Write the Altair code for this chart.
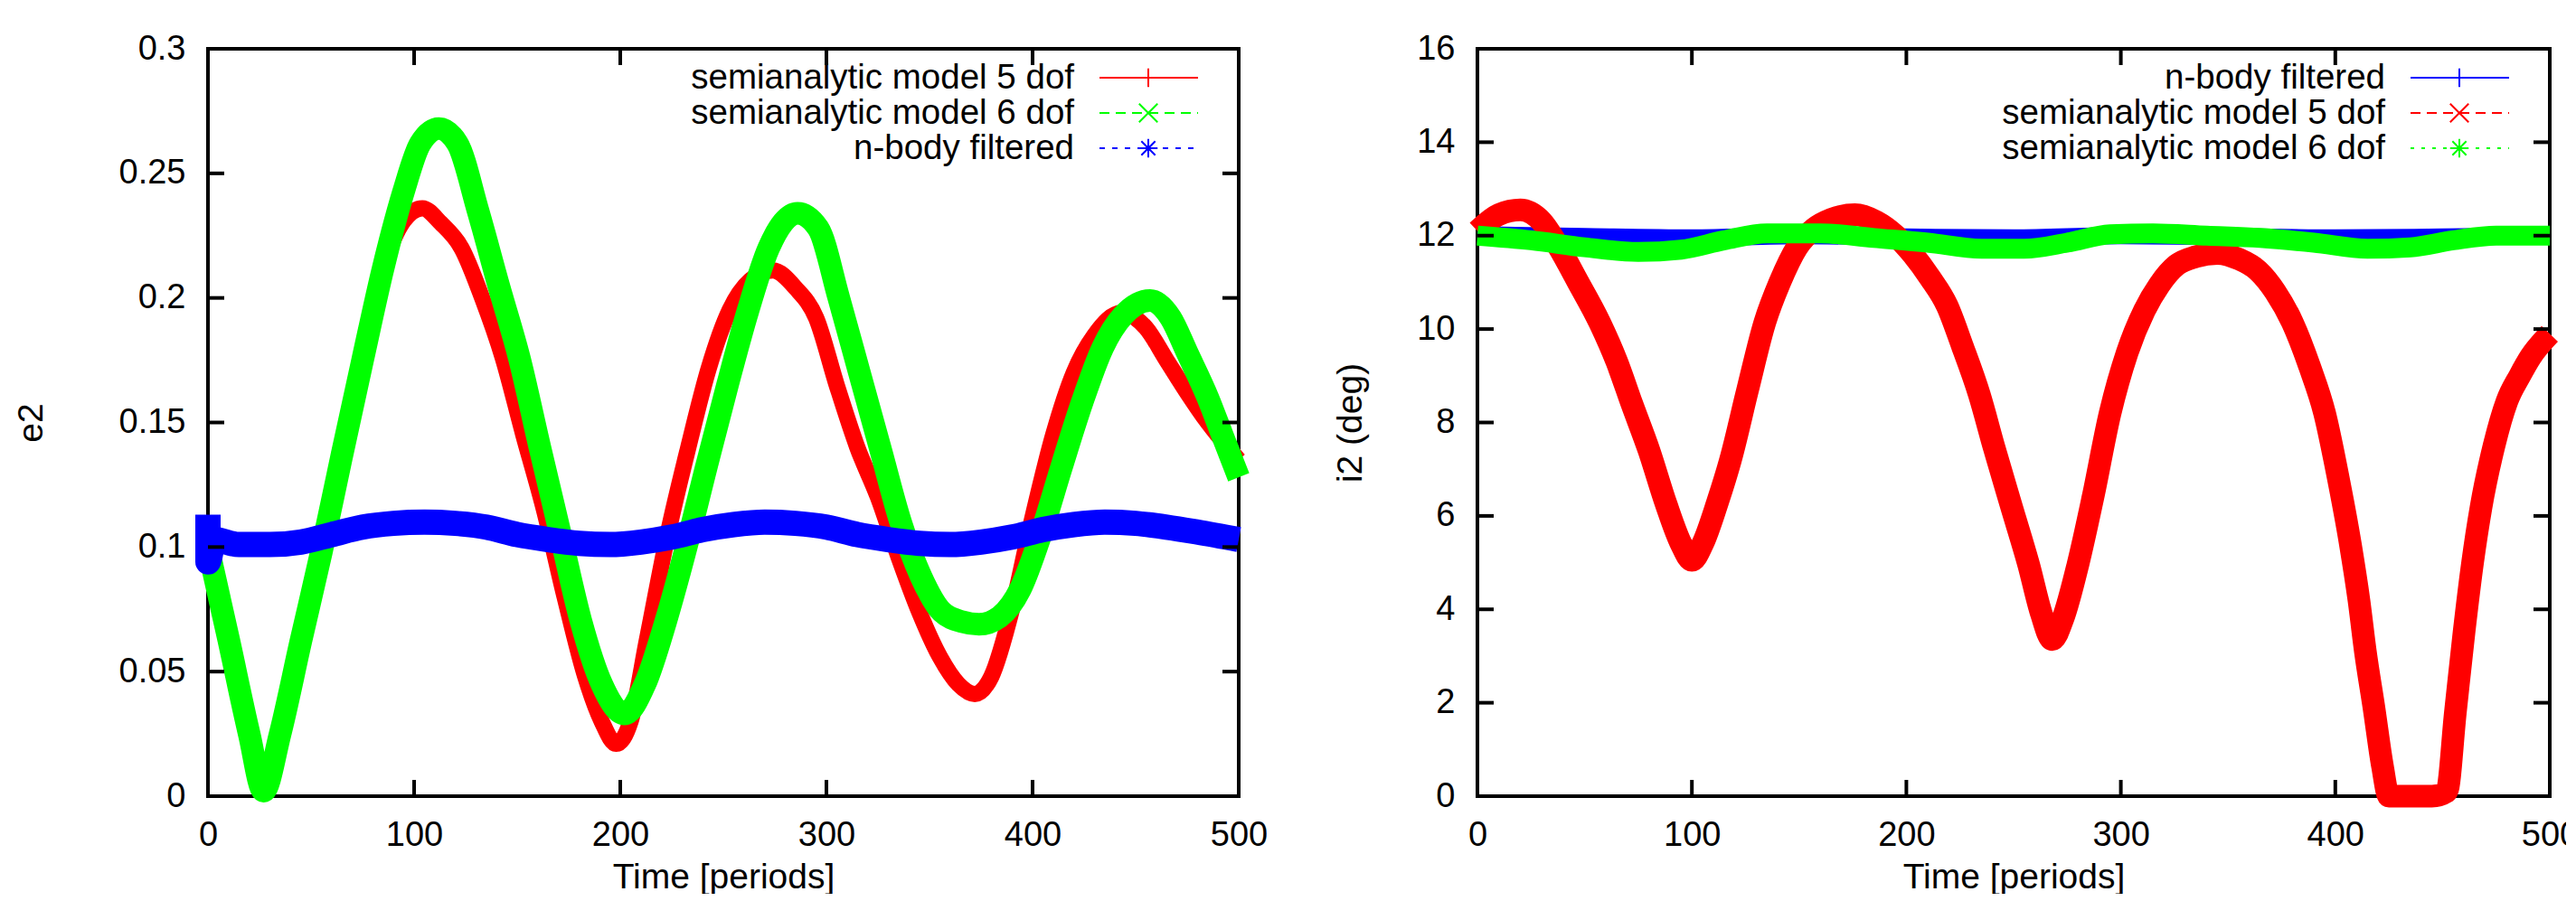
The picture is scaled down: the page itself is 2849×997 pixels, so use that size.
import altair as alt
import pandas as pd

# ---------------- data ----------------
# Left panel: e2 vs time
t_e5 = [0, 10, 20, 27, 35, 45, 55, 65, 75, 85, 95, 104, 113, 123, 133, 143, 153, 163, 173, 183, 191, 198,
        205, 213, 223, 233, 243, 253, 263, 274, 285, 295, 305, 315, 325, 335, 345, 355, 364, 372, 380, 390,
        400, 410, 420, 430, 443, 455, 465, 475, 485, 500]
e2_5dof = [0.100, 0.063, 0.026, 0.002, 0.028, 0.065, 0.103, 0.140, 0.178, 0.212, 0.231, 0.236, 0.230, 0.220,
           0.200, 0.176, 0.145, 0.115, 0.080, 0.048, 0.030, 0.021, 0.030, 0.063, 0.105, 0.140, 0.172, 0.195,
           0.207, 0.211, 0.204, 0.192, 0.165, 0.140, 0.120, 0.096, 0.074, 0.056, 0.045, 0.041, 0.048, 0.075,
           0.112, 0.145, 0.170, 0.185, 0.194, 0.188, 0.175, 0.162, 0.150, 0.135]

t_e6 = [0, 10, 20, 27, 35, 45, 55, 65, 75, 85, 95, 103, 112, 121, 131, 141, 151, 161, 171, 181, 191, 202,
        212, 222, 232, 242, 252, 262, 272, 286, 296, 306, 316, 326, 336, 346, 356, 366, 374, 384, 394, 404,
        414, 424, 434, 444, 457, 467, 475, 485, 492, 500]
e2_6dof = [0.100, 0.063, 0.025, 0.002, 0.025, 0.062, 0.098, 0.137, 0.175, 0.212, 0.243, 0.262, 0.268, 0.262,
           0.235, 0.205, 0.176, 0.140, 0.105, 0.070, 0.045, 0.033, 0.045, 0.070, 0.100, 0.133, 0.165, 0.195,
           0.220, 0.234, 0.228, 0.200, 0.170, 0.140, 0.110, 0.088, 0.074, 0.070, 0.069, 0.072, 0.083, 0.105,
           0.132, 0.158, 0.180, 0.193, 0.199, 0.192, 0.178, 0.160, 0.145, 0.128]

t_en = [0, 0, 3, 15, 30, 45, 60, 75, 90, 105, 120, 135, 150, 165, 180, 195, 210, 225, 240, 255, 270, 285,
        300, 315, 330, 345, 360, 375, 390, 405, 420, 435, 450, 465, 480, 500]
e2_nbody = [0.113, 0.094, 0.103, 0.101, 0.101, 0.102, 0.105, 0.108, 0.1095, 0.110, 0.1095, 0.108, 0.105,
            0.103, 0.1015, 0.101, 0.102, 0.104, 0.107, 0.109, 0.110, 0.1095, 0.108, 0.105, 0.103, 0.1015,
            0.101, 0.102, 0.104, 0.107, 0.109, 0.110, 0.1095, 0.108, 0.106, 0.103]

# Right panel: i2 (deg) vs time
t_in = [0, 50, 100, 150, 200, 250, 300, 350, 400, 450, 500]
i2_nbody = [12.02, 11.98, 11.95, 12.0, 11.97, 11.95, 12.0, 11.98, 11.95, 11.97, 12.0]

t_i5 = [0, 10, 20, 30, 38, 47, 57, 65, 72, 80, 88, 95, 100, 105, 112, 118, 126, 134, 141, 149, 157, 165,
        176, 186, 195, 203, 211, 219, 226, 234, 241, 249, 257, 263, 268, 273, 280, 287, 295, 303, 311, 318,
        326, 335, 345, 355, 364, 372, 380, 388, 395, 401, 407, 411, 414, 418, 422, 425, 435, 445, 452, 456,
        460, 464, 468, 474, 480, 486, 491, 500]
i2_5dof = [12.1, 12.45, 12.55, 12.3, 11.75, 11.0, 10.14, 9.3, 8.4, 7.4, 6.25, 5.4, 5.05, 5.4, 6.3, 7.2, 8.7,
           10.14, 11.0, 11.75, 12.15, 12.35, 12.45, 12.3, 12.0, 11.6, 11.1, 10.5, 9.65, 8.6, 7.45, 6.2, 4.96,
           3.9, 3.35, 3.8, 4.96, 6.4, 8.2, 9.5, 10.4, 10.95, 11.37, 11.55, 11.62, 11.5, 11.25, 10.8, 10.14,
           9.2, 8.2, 6.9, 5.4, 4.2, 3.1, 1.9, 0.64, 0.0, 0.0, 0.0, 0.1, 1.8, 3.5, 5.0, 6.2, 7.5, 8.45, 9.0,
           9.4, 9.9]

t_i6 = [0, 25, 50, 75, 95, 115, 135, 160, 185, 210, 235, 255, 275, 295, 315, 340, 365, 390, 415, 435, 455,
        475, 500]
i2_6dof = [12.0, 11.9, 11.75, 11.65, 11.7, 11.9, 12.05, 12.05, 11.95, 11.85, 11.72, 11.72, 11.85, 12.03,
           12.05, 12.0, 11.95, 11.85, 11.72, 11.75, 11.9, 12.0, 12.0]

x_ticks = [0, 100, 200, 300, 400, 500]
e2_ticks = [0, 0.05, 0.1, 0.15, 0.2, 0.25, 0.3]
i2_ticks = [0, 2, 4, 6, 8, 10, 12, 14, 16]

left_labels = ["semianalytic model 5 dof", "semianalytic model 6 dof", "n-body filtered"]
right_labels = ["n-body filtered", "semianalytic model 5 dof", "semianalytic model 6 dof"]

# ---------------- style ----------------
FONT = "Liberation Sans"
RED, GREEN, BLUE = "#ff0000", "#00ff00", "#0000ff"
W1, W2, H = 1140, 1186, 827
TICK = 18

PLUS = "M-1,0L1,0M0,-1L0,1"
CROSS = "M-1,-1L1,1M-1,1L1,-1"
STAR = "M-1,0L1,0M0,-1L0,1M-0.75,-0.75L0.75,0.75M-0.75,0.75L0.75,-0.75"


def panel(width, series, y_domain, y_ticks, y_fmt, y_title, y_title_pad, legend):
    xs = alt.Scale(domain=[0, 500], nice=False, zero=False)
    ys = alt.Scale(domain=y_domain, nice=False, zero=False)
    common = dict(ticks=False, domain=False, grid=False, labelFont=FONT, labelFontSize=38,
                  titleFont=FONT, titleFontSize=39, titleFontWeight="normal",
                  labelColor="black", titleColor="black")
    x_axis = alt.Axis(values=x_ticks, format="d", title="Time [periods]", labelFlush=False,
                      labelPadding=24, titlePadding=8, **common)
    y_axis = alt.Axis(values=y_ticks, format=y_fmt, title=y_title, labelPadding=25,
                      titlePadding=y_title_pad, **common)
    layers = []
    for t, v, color, sw in series:
        df = pd.DataFrame({"t": t, "v": v})
        layers.append(
            alt.Chart(df).mark_line(color=color, strokeWidth=sw, strokeJoin="round", strokeCap="butt",
                                    interpolate="monotone")
            .encode(x=alt.X("t:Q", scale=xs, axis=x_axis), y=alt.Y("v:Q", scale=ys, axis=y_axis))
        )
    # inward ticks on all four sides
    ydf = pd.DataFrame({"v": y_ticks})
    xdf = pd.DataFrame({"t": x_ticks})
    for a, b in [(0, TICK), (width - TICK, width)]:
        layers.append(alt.Chart(ydf).mark_rule(color="black", strokeWidth=4).encode(
            y=alt.Y("v:Q", scale=ys, axis=y_axis), x=alt.value(a), x2=alt.value(b)))
    for a, b in [(H - TICK, H), (0, TICK)]:
        layers.append(alt.Chart(xdf).mark_rule(color="black", strokeWidth=4).encode(
            x=alt.X("t:Q", scale=xs, axis=x_axis), y=alt.value(a), y2=alt.value(b)))
    # gnuplot-style key in the top-right corner
    for i, (label, color, dash, shape) in enumerate(legend):
        yy = 32 + 39 * i
        ldf = pd.DataFrame({"label": [label]})
        layers.append(alt.Chart(ldf).mark_text(align="right", baseline="middle", font=FONT, fontSize=38.5,
                                               color="black")
                      .encode(x=alt.value(width - 182), y=alt.value(yy), text="label:N"))
        rk = dict(color=color, strokeWidth=2)
        if dash:
            rk["strokeDash"] = dash
        layers.append(alt.Chart(ldf).mark_rule(**rk).encode(
            x=alt.value(width - 154), x2=alt.value(width - 45), y=alt.value(yy)))
        layers.append(alt.Chart(ldf).mark_point(shape=shape, size=420, filled=False, strokeWidth=2,
                                                color=color, opacity=1)
                      .encode(x=alt.value(width - 100), y=alt.value(yy)))
    return alt.layer(*layers).properties(width=width, height=H)


left = panel(
    W1,
    [(t_e5, e2_5dof, RED, 18), (t_e6, e2_6dof, GREEN, 25), (t_en, e2_nbody, BLUE, 28)],
    [0, 0.3], e2_ticks, "~g", "e2", 77,
    [(left_labels[0], RED, None, PLUS), (left_labels[1], GREEN, [11, 7], CROSS),
     (left_labels[2], BLUE, [6, 8], STAR)],
)
right = panel(
    W2,
    [(t_in, i2_nbody, BLUE, 19), (t_i5, i2_5dof, RED, 25), (t_i6, i2_6dof, GREEN, 22)],
    [0, 16], i2_ticks, "d", "i2 (deg)", 53,
    [(right_labels[0], BLUE, None, PLUS), (right_labels[1], RED, [11, 7], CROSS),
     (right_labels[2], GREEN, [4, 8], STAR)],
)

chart = (
    alt.hconcat(left, right, spacing=264, bounds="flush")
    .properties(padding={"left": 5, "top": 25, "right": -16, "bottom": -3}, background="white")
    .configure_view(stroke="black", strokeWidth=4)
)

chart.save("out.html", embed_options={"renderer": "svg", "actions": False})
